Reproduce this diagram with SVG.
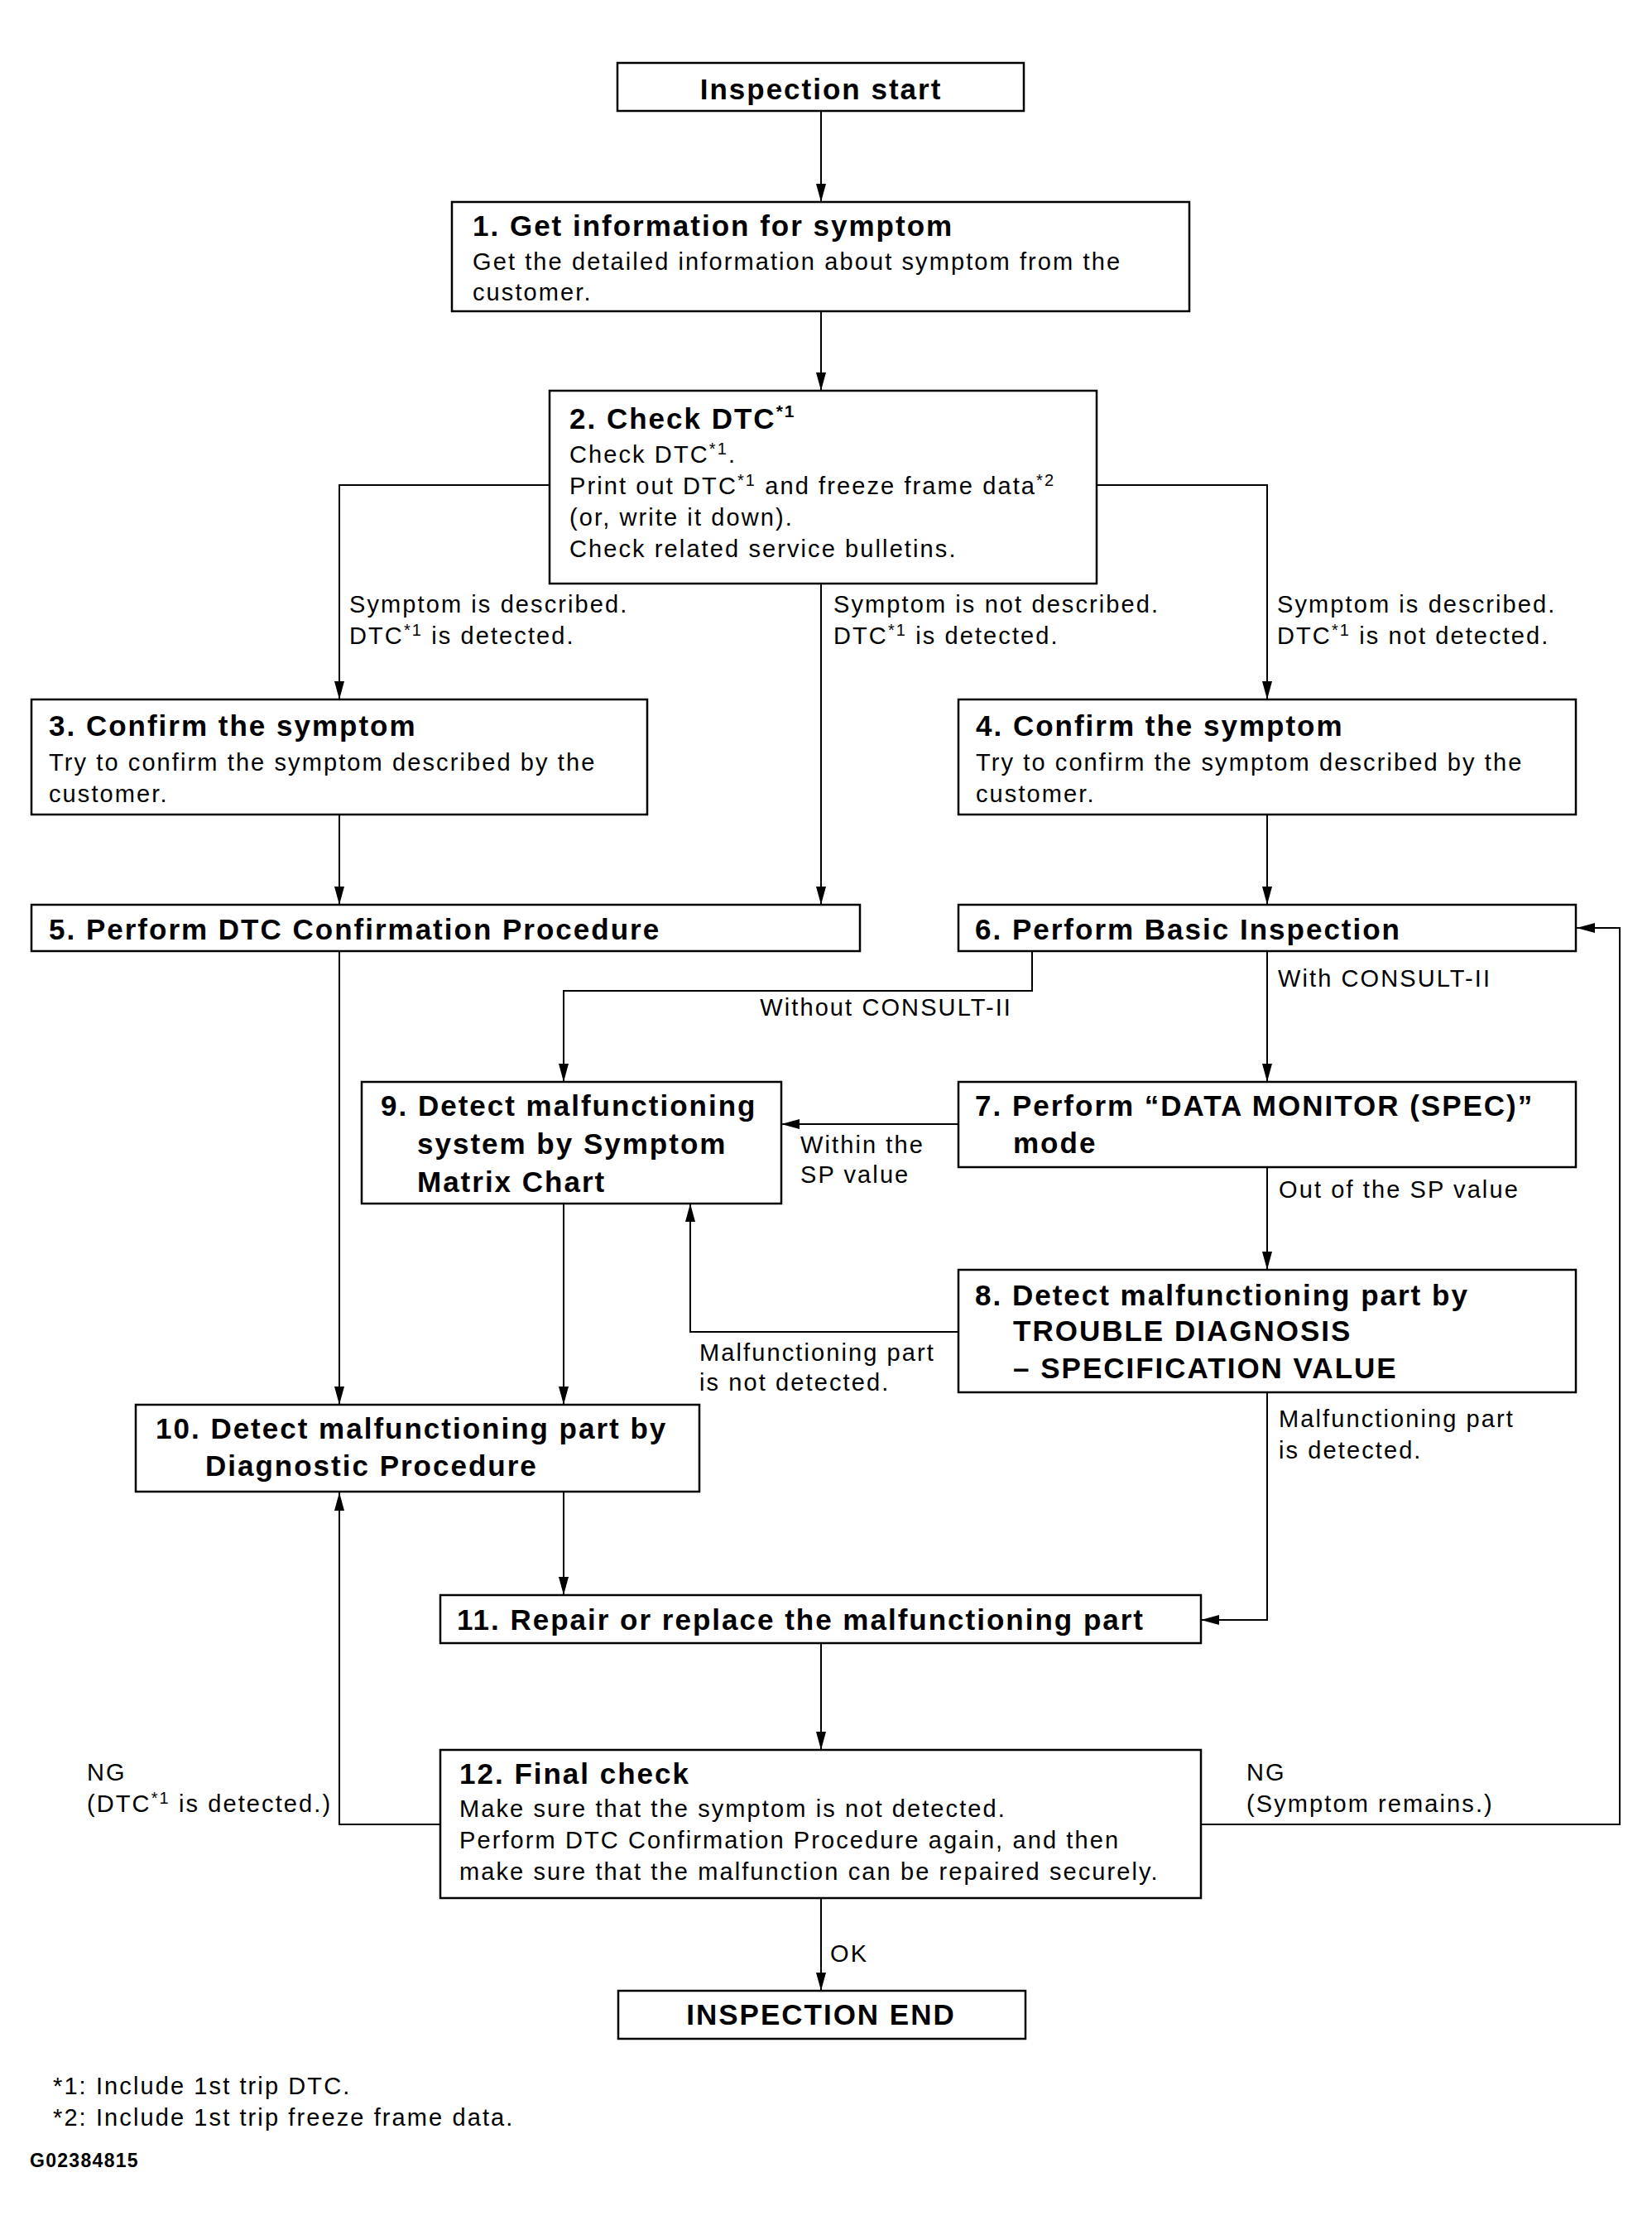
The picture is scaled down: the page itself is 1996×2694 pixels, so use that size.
<svg xmlns="http://www.w3.org/2000/svg" width="1996" height="2694" viewBox="0 0 1996 2694">
<style>
text{font-family:"Liberation Sans",Arial,Helvetica,sans-serif;fill:#000}
.t{font-size:35px;font-weight:bold;letter-spacing:2px}
.b{font-size:29px;letter-spacing:2.1px}
.c{font-size:23px;font-weight:bold;letter-spacing:1.3px}
.box{fill:#fff;stroke:#000;stroke-width:2.5}
.ln{fill:none;stroke:#000;stroke-width:2}
.ar{marker-end:url(#ah)}
.sup{font-size:20px}
.supb{font-size:21px}
</style>
<defs>
<marker id="ah" viewBox="0 0 22 12" refX="22" refY="6" markerWidth="22" markerHeight="12" markerUnits="userSpaceOnUse" orient="auto">
<path d="M0,0 L22,6 L0,12 z" fill="#000"/>
</marker>
</defs>
<rect width="1996" height="2694" fill="#fff"/>

<g id="connectors">
<path class="ln ar" d="M992,134 V244"/>
<path class="ln ar" d="M992,376 V472"/>
<path class="ln ar" d="M664,586 H410 V845"/>
<path class="ln ar" d="M1325,586 H1531 V845"/>
<path class="ln ar" d="M992,705 V1093"/>
<path class="ln ar" d="M410,984 V1093"/>
<path class="ln ar" d="M1531,984 V1093"/>
<path class="ln ar" d="M1247,1149 V1197 H681 V1307"/>
<path class="ln ar" d="M1531,1149 V1307"/>
<path class="ln ar" d="M1158,1358 H944"/>
<path class="ln ar" d="M1531,1410 V1534"/>
<path class="ln ar" d="M1158,1609 H834 V1454"/>
<path class="ln ar" d="M410,1149 V1697"/>
<path class="ln ar" d="M681,1454 V1697"/>
<path class="ln ar" d="M681,1802 V1927"/>
<path class="ln ar" d="M1531,1682 V1957 H1451"/>
<path class="ln ar" d="M992,1985 V2114"/>
<path class="ln ar" d="M532,2204 H410 V1803"/>
<path class="ln ar" d="M1451,2204 H1957 V1121 H1905"/>
<path class="ln ar" d="M992,2293 V2405"/>
<text class="b" x="422" y="740">Symptom is described.</text>
<text class="b" x="422" y="778">DTC<tspan class="sup" dy="-10">*1</tspan><tspan dy="10"> is detected.</tspan></text>
<text class="b" x="1007" y="740">Symptom is not described.</text>
<text class="b" x="1007" y="778">DTC<tspan class="sup" dy="-10">*1</tspan><tspan dy="10"> is detected.</tspan></text>
<text class="b" x="1543" y="740">Symptom is described.</text>
<text class="b" x="1543" y="778">DTC<tspan class="sup" dy="-10">*1</tspan><tspan dy="10"> is not detected.</tspan></text>
<text class="b" x="1544" y="1192">With CONSULT-II</text>
<text class="b" x="1223" y="1227" text-anchor="end">Without CONSULT-II</text>
<text class="b" x="967" y="1393">Within the</text>
<text class="b" x="967" y="1429">SP value</text>
<text class="b" x="1545" y="1447">Out of the SP value</text>
<text class="b" x="845" y="1644">Malfunctioning part</text>
<text class="b" x="845" y="1680">is not detected.</text>
<text class="b" x="1545" y="1724">Malfunctioning part</text>
<text class="b" x="1545" y="1762">is detected.</text>
<text class="b" x="105" y="2151">NG</text>
<text class="b" x="105" y="2189">(DTC<tspan class="sup" dy="-10">*1</tspan><tspan dy="10"> is detected.)</tspan></text>
<text class="b" x="1506" y="2151">NG</text>
<text class="b" x="1506" y="2189">(Symptom remains.)</text>
<text class="b" x="1003" y="2370">OK</text>
</g>

<g id="start">
<rect class="box" x="746" y="76" width="491" height="58"/>
<text class="t" x="992" y="120" text-anchor="middle">Inspection start</text>
</g>

<g id="n1">
<rect class="box" x="546" y="244" width="891" height="132"/>
<text class="t" x="571" y="285">1. Get information for symptom</text>
<text class="b" x="571" y="326">Get the detailed information about symptom from the</text>
<text class="b" x="571" y="363">customer.</text>
</g>

<g id="n2">
<rect class="box" x="664" y="472" width="661" height="233"/>
<text class="t" x="688" y="518">2. Check DTC<tspan class="supb" dy="-14">*1</tspan></text>
<text class="b" x="688" y="559">Check DTC<tspan class="sup" dy="-10">*1</tspan><tspan dy="10">.</tspan></text>
<text class="b" x="688" y="597">Print out DTC<tspan class="sup" dy="-10">*1</tspan><tspan dy="10"> and freeze frame data</tspan><tspan class="sup" dy="-10">*2</tspan></text>
<text class="b" x="688" y="635">(or, write it down).</text>
<text class="b" x="688" y="673">Check related service bulletins.</text>
</g>

<g id="n3">
<rect class="box" x="38" y="845" width="744" height="139"/>
<text class="t" x="59" y="889">3. Confirm the symptom</text>
<text class="b" x="59" y="931">Try to confirm the symptom described by the</text>
<text class="b" x="59" y="969">customer.</text>
</g>

<g id="n4">
<rect class="box" x="1158" y="845" width="746" height="139"/>
<text class="t" x="1179" y="889">4. Confirm the symptom</text>
<text class="b" x="1179" y="931">Try to confirm the symptom described by the</text>
<text class="b" x="1179" y="969">customer.</text>
</g>

<g id="n5">
<rect class="box" x="38" y="1093" width="1001" height="56"/>
<text class="t" x="59" y="1135">5. Perform DTC Confirmation Procedure</text>
</g>

<g id="n6">
<rect class="box" x="1158" y="1093" width="746" height="56"/>
<text class="t" x="1178" y="1135">6. Perform Basic Inspection</text>
</g>

<g id="n7">
<rect class="box" x="1158" y="1307" width="746" height="103"/>
<text class="t" x="1178" y="1348">7. Perform “DATA MONITOR (SPEC)”</text>
<text class="t" x="1224" y="1393">mode</text>
</g>

<g id="n8">
<rect class="box" x="1158" y="1534" width="746" height="148"/>
<text class="t" x="1178" y="1577">8. Detect malfunctioning part by</text>
<text class="t" x="1224" y="1620">TROUBLE DIAGNOSIS</text>
<text class="t" x="1224" y="1665">– SPECIFICATION VALUE</text>
</g>

<g id="n9">
<rect class="box" x="437" y="1307" width="507" height="147"/>
<text class="t" x="460" y="1348">9. Detect malfunctioning</text>
<text class="t" x="504" y="1394">system by Symptom</text>
<text class="t" x="504" y="1440">Matrix Chart</text>
</g>

<g id="n10">
<rect class="box" x="164" y="1697" width="681" height="105"/>
<text class="t" x="188" y="1738">10. Detect malfunctioning part by</text>
<text class="t" x="248" y="1783">Diagnostic Procedure</text>
</g>

<g id="n11">
<rect class="box" x="532" y="1927" width="919" height="58"/>
<text class="t" x="552" y="1969">11. Repair or replace the malfunctioning part</text>
</g>

<g id="n12">
<rect class="box" x="532" y="2114" width="919" height="179"/>
<text class="t" x="555" y="2155">12. Final check</text>
<text class="b" x="555" y="2195">Make sure that the symptom is not detected.</text>
<text class="b" x="555" y="2233">Perform DTC Confirmation Procedure again, and then</text>
<text class="b" x="555" y="2271">make sure that the malfunction can be repaired securely.</text>
</g>

<g id="end">
<rect class="box" x="747" y="2405" width="492" height="58"/>
<text class="t" x="992" y="2446" text-anchor="middle">INSPECTION END</text>
</g>

<g id="notes">
<text class="b" x="64" y="2530">*1: Include 1st trip DTC.</text>
<text class="b" x="64" y="2568">*2: Include 1st trip freeze frame data.</text>
<text class="c" x="36" y="2618">G02384815</text>
</g>
</svg>
